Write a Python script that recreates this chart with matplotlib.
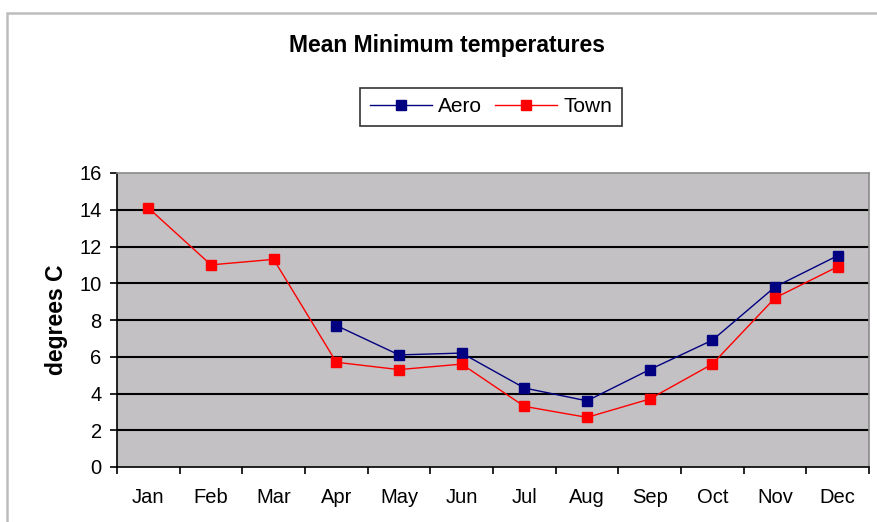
import numpy as np
import matplotlib.pyplot as plt
from matplotlib.patches import Rectangle

months = ['Jan', 'Feb', 'Mar', 'Apr', 'May', 'Jun',
          'Jul', 'Aug', 'Sep', 'Oct', 'Nov', 'Dec']
aero = [np.nan, np.nan, np.nan, 7.7, 6.1, 6.2, 4.3, 3.6, 5.3, 6.9, 9.8, 11.5]
town = [14.1, 11.0, 11.3, 5.7, 5.3, 5.6, 3.3, 2.7, 3.7, 5.6, 9.2, 10.9]

plt.rcParams['font.family'] = ['Liberation Sans', 'DejaVu Sans']

fig = plt.figure(figsize=(8.77, 5.22), dpi=100)
fig.patch.set_facecolor('white')

# chart area border (Excel style, runs off right/bottom edge)
fig.patches.append(Rectangle((7 / 877, -0.1), 1.2, 1 - 13 / 522 + 0.1,
                             transform=fig.transFigure, fill=False,
                             edgecolor='#bdbdbd', lw=1.8))

ax = fig.add_axes([117 / 877, 1 - 467 / 522, (869 - 117) / 877, (467 - 173) / 522])
ax.set_facecolor('#c3c1c4')

x = np.arange(len(months)) + 0.5
ax.plot(x, aero, color='#000080', lw=1, marker='s', ms=6.5,
        markeredgecolor='#000080', label='Aero', zorder=3)
ax.plot(x, town, color='#ff0000', lw=1, marker='s', ms=6.5,
        markeredgecolor='#ff0000', label='Town', zorder=3)

ax.set_xlim(0, 12)
ax.set_ylim(0, 16)
ax.set_yticks(range(0, 17, 2))
for yv in range(2, 16, 2):
    ax.axhline(yv, color='black', lw=1.5, zorder=1)

ax.set_xticks(range(0, 13))
ax.set_xticklabels([])
ax.set_xticks(x, minor=True)
ax.set_xticklabels(months, minor=True, fontsize=14.5)
ax.tick_params(axis='x', which='minor', length=0, pad=15)
ax.tick_params(axis='x', which='major', length=5, width=1.2, direction='out')
ax.tick_params(axis='y', length=5, width=1.2, direction='out', labelsize=14.5, pad=6)

for s in ['left', 'bottom']:
    ax.spines[s].set_color('black')
    ax.spines[s].set_linewidth(1.2)
for s in ['top', 'right']:
    ax.spines[s].set_color('#8a8a8a')
    ax.spines[s].set_linewidth(1.2)

ax.set_ylabel('degrees C', fontsize=16.5, fontweight='bold', labelpad=8)

fig.text(447 / 877, 1 - 45 / 522, 'Mean Minimum temperatures',
         ha='center', va='center', fontsize=16.5, fontweight='bold')

leg = fig.legend(loc='center', bbox_to_anchor=(491 / 877, 1 - 107 / 522),
                 ncol=2, fontsize=15, frameon=True, fancybox=False,
                 edgecolor='black', handlelength=3, columnspacing=0.6,
                 handletextpad=0.3, borderpad=0.45)
leg.get_frame().set_linewidth(1.2)

fig.savefig('out.png', dpi=100, facecolor='white')
